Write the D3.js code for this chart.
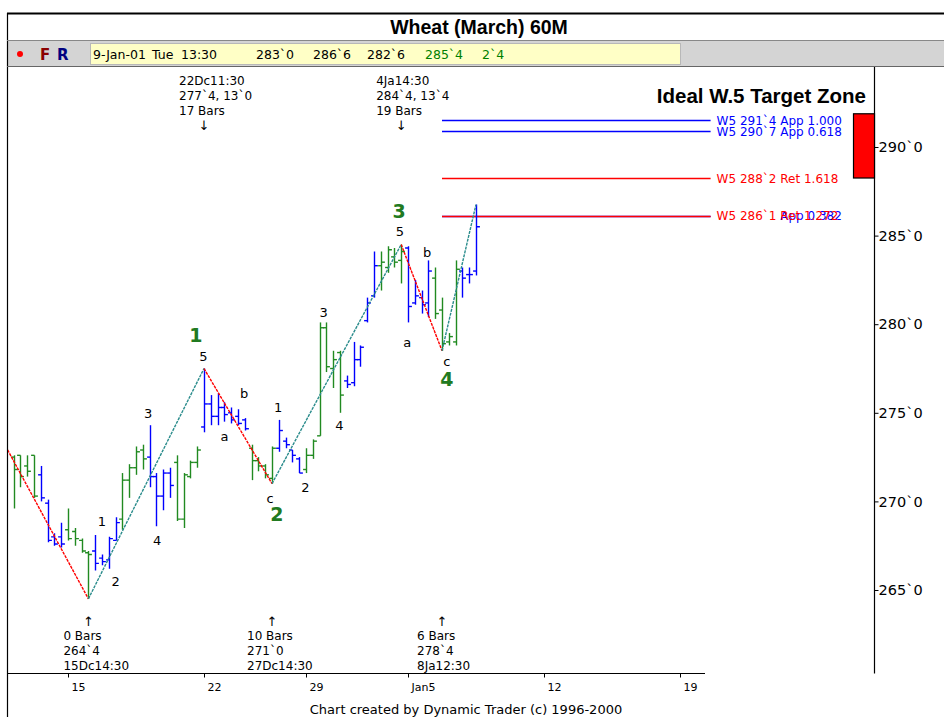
<!DOCTYPE html>
<html><head><meta charset="utf-8">
<script src="https://cdn.jsdelivr.net/npm/d3@7"></script>
<style>body{margin:0;background:#fff}svg{display:block}</style>
</head><body>
<svg id="c" width="944" height="717"></svg>
<script>
// ---------- data ----------
const chartTitle = "Wheat (March) 60M";
const headerFields = ["9-Jan-01", "Tue", "13:30", "283`0", "286`6", "282`6", "285`4", "2`4"];
const headerColors = ["#000", "#000", "#000", "#000", "#000", "#000", "#008000", "#008000"];

// hourly OHLC bars, index 0 = 13-Dec 11:30
const opens  = [272.5,272.6,272.0,272.6, 271.5,269.9,268.0,268.0, 268.4,268.3,267.8,267.1, 267.2,266.8,266.7,267.8,
                269.0,271.2,271.9,272.9, 272.5,271.4,270.3,271.6, 272.2,269.0,271.4,272.2, 274.2,275.5,274.8,
                275.3,275.0,274.8,274.6, 273.0,272.3,272.0,271.3, 273.0,273.4,272.9,272.4, 271.8,272.6,273.7,
                279.8,277.5,278.4, 276.8,276.7,278.0,280.2,281.6, 283.3,283.2,283.8,283.6, 284.3,281.2,281.5,281.2,
                282.6,280.8,279.0,279.0, 283.0,282.8,283.0];
const highs  = [272.6,272.6,272.6,272.6, 272.0,270.1,268.2,268.8, 269.6,268.5,267.9,267.2, 268.1,267.0,268.0,269.1,
                271.6,272.1,273.1,273.2, 274.3,271.6,271.8,271.9, 272.6,271.6,272.3,273.1, 277.5,276.0,276.1,
                275.6,275.3,275.2,274.7, 273.2,272.5,272.1,273.1, 274.6,273.6,272.9,272.5, 273.0,273.5,280.1,
                280.1,278.5,278.5, 277.1,279.0,278.8,281.5,284.1, 284.1,284.4,284.3,284.5, 284.4,282.5,281.9,283.6,
                283.2,281.5,279.5,283.6, 283.2,283.2,286.75];
const lows   = [269.6,270.8,271.4,270.2, 270.0,267.7,267.5,267.4, 267.8,267.5,267.1,264.5, 266.1,266.4,266.2,267.8,
                268.4,270.2,271.5,271.8, 270.8,268.6,269.5,270.2, 268.9,268.5,271.3,271.9, 273.9,274.3,274.3,
                274.5,274.4,274.3,274.0, 271.2,271.7,271.3,271.0, 272.8,273.0,272.2,271.6, 271.6,272.4,273.7,
                277.3,276.4,275.0, 276.4,276.5,277.6,280.1,281.5, 281.9,282.9,283.2,282.3, 280.1,281.1,280.6,280.4,
                280.3,278.5,278.8,278.8, 281.5,282.3,282.75];
const closes = [271.8,271.4,271.7,270.3, 270.2,267.8,267.6,267.6, 267.9,267.9,267.2,267.0, 266.5,266.6,267.9,268.8,
                271.2,271.9,272.8,272.4, 271.4,270.3,271.6,270.9, 269.0,271.5,272.2,272.9, 275.5,274.8,275.3,
                274.9,274.6,274.4,274.1, 272.3,272.0,271.5,273.0, 274.0,273.2,272.6,271.6, 272.6,273.4,279.8,
                277.6,278.0,276.0, 276.6,278.0,278.7,281.2,283.3, 283.5,284.2,283.5,284.1, 281.0,281.6,281.1,283.0,
                280.6,278.9,279.3,283.1, 282.6,282.8,285.5];
const barColorKeys = "ggggbbbbggggbbbbggggbbbbggggbbbbbbbggggbbbbggggggbbbbbggggbbbbggggbbb".split("");

const dayTickLabels = ["15", "22", "29", "Jan5", "12", "19"];
const dayTickIndex  = [8, 28, 43, 58, 78, 98];
const priceTicks    = [265, 270, 275, 280, 285, 290];

// wave pivots (bar index, price)
const pivotIndex = [-2, 11, 28, 38, 57, 63, 68];
const pivotValue = [273.7, 264.5, 277.5, 271.0, 284.5, 278.5, 286.75];

// small wave labels
const subLabelText  = ["1","2","3","4","5","a","b","c","1","2","3","4","5","a","b","c"];
const subLabelIndex = [13, 15, 19.8, 21.1, 27.9, 31, 33.9, 37.7, 38.9, 42.9, 45.6, 47.9, 56.8, 57.9, 60.8, 63.7];
const subLabelValue = [268.9, 265.5, 275.0, 267.8, 278.2, 273.7, 276.1, 270.2, 275.3, 270.8, 280.7, 274.3, 285.25, 279.0, 284.1, 277.9];
// major wave labels
const waveText  = ["1", "2", "3", "4"];
const waveIndex = [26.8, 38.7, 56.7, 63.7];
const waveValue = [279.4, 269.3, 286.4, 276.9];

// pivot annotations
const topNoteIndex = [28, 57];
const topNoteLines = [["22Dc11:30", "277`4, 13`0", "17 Bars"], ["4Ja14:30", "284`4, 13`4", "19 Bars"]];
const botNoteIndex = [11, 38, 63];
const botNoteLines = [["0 Bars", "264`4", "15Dc14:30"], ["10 Bars", "271`0", "27Dc14:30"], ["6 Bars", "278`4", "8Ja12:30"]];

// wave 5 targets
const targetValues = [291.5, 290.875, 288.25, 286.125, 286.125];
const targetLabels = ["W5 291`4 App 1.000", "W5 290`7 App 0.618", "W5 288`2 Ret 1.618", "W5 286`1 Ret 1.272", "W5 286`1 App 0.382"];
const targetKinds  = ["App", "App", "Ret", "Ret", "App"];
const targetStart  = 63, targetEnd = 102.5;
const zoneRange = [291.875, 288.25];
const zoneTitle = "Ideal W.5 Target Zone";
const footer = "Chart created by Dynamic Trader (c) 1996-2000";

// ---------- drawing ----------
const svg = d3.select("#c");
const W = 944, H = 717;
const plot = {left: 7.5, right: 874.5, top: 66.5, bottom: 673.5};
const x = d3.scaleLinear().domain([0, 68]).range([13.6, 476]);
const y = d3.scaleLinear().domain([265, 290]).range([590, 147]);
const GREEN = "#218a21", BLUE = "#0000ff", RED = "#ff0000", TEAL = "#2a8c8c";
const FONT = "DejaVu Sans, Verdana, sans-serif";

svg.append("rect").attr("width", W).attr("height", H).attr("fill", "#fff");

// title row & toolbar
svg.append("text").attr("x", 479).attr("y", 34).attr("text-anchor", "middle")
  .attr("font-family", "Liberation Sans, Arial, sans-serif").attr("font-weight", "bold")
  .attr("font-size", 19.5).text(chartTitle);
svg.append("rect").attr("x", 8).attr("y", 41).attr("width", W - 8).attr("height", 25).attr("fill", "#d4d4d4");
svg.append("rect").attr("x", 90.5).attr("y", 43.5).attr("width", 590).attr("height", 21)
  .attr("fill", "#ffffc6").attr("stroke", "#b8b8b8");
svg.append("circle").attr("cx", 20).attr("cy", 54).attr("r", 3).attr("fill", "#ff0000");
svg.append("text").attr("x", 40).attr("y", 60).attr("font-family", FONT).attr("font-weight", "bold")
  .attr("font-size", 15).attr("fill", "#8b0000").text("F");
svg.append("text").attr("x", 57).attr("y", 60).attr("font-family", FONT).attr("font-weight", "bold")
  .attr("font-size", 15).attr("fill", "#000080").text("R");
const headerX = [93, 152, 181, 256, 313, 367, 425, 482];
svg.selectAll("text.hdr").data(headerFields).join("text").attr("class", "hdr")
  .attr("x", (d, i) => headerX[i]).attr("y", 59).attr("font-family", FONT).attr("font-size", 12.5)
  .attr("fill", (d, i) => headerColors[i]).text(d => d);

// frame lines
const frame = svg.append("g").attr("stroke", "#000").attr("stroke-width", 1.2).attr("fill", "none");
frame.append("line").attr("x1", 7).attr("x2", W).attr("y1", 13.5).attr("y2", 13.5).attr("stroke-width", 2);
frame.append("line").attr("x1", 7.5).attr("x2", 7.5).attr("y1", 13).attr("y2", H);
frame.append("line").attr("x1", 7).attr("x2", W).attr("y1", 40.5).attr("y2", 40.5).attr("stroke", "#888");
frame.append("line").attr("x1", 7).attr("x2", W).attr("y1", 66.5).attr("y2", 66.5).attr("stroke", "#666");
frame.append("line").attr("x1", plot.right).attr("x2", plot.right).attr("y1", 67).attr("y2", plot.bottom);
frame.append("line").attr("x1", 7).attr("x2", 705).attr("y1", plot.bottom).attr("y2", plot.bottom);

// clip
svg.append("clipPath").attr("id", "pc").append("rect")
  .attr("x", 8).attr("y", 67).attr("width", plot.right - 8).attr("height", plot.bottom - 67);
const g = svg.append("g").attr("clip-path", "url(#pc)");

// right axis
const ya = svg.append("g").attr("transform", `translate(${plot.right},0)`)
  .call(d3.axisRight(y).tickValues(priceTicks).tickSize(4).tickFormat(v => v + "`0"));
ya.select(".domain").remove();
ya.selectAll("text").attr("font-family", FONT).attr("font-size", 14.5).attr("fill", "#000").attr("x", 4);
ya.selectAll("line").attr("stroke", "#000");

// bottom axis
const xa = svg.append("g").attr("transform", `translate(0,${plot.bottom})`)
  .call(d3.axisBottom(x).tickValues(dayTickIndex).tickSize(4).tickFormat((d, i) => dayTickLabels[i]));
xa.select(".domain").remove();
xa.selectAll("text").attr("font-family", FONT).attr("font-size", 11).attr("fill", "#000")
  .attr("text-anchor", "start").attr("dx", 3).attr("y", 10);
xa.selectAll("line").attr("stroke", "#000");

// target zone box
svg.append("rect").attr("x", 853.5).attr("width", 21)
  .attr("y", y(zoneRange[0])).attr("height", y(zoneRange[1]) - y(zoneRange[0]))
  .attr("fill", "#ff0000").attr("stroke", "#000").attr("stroke-width", 1.2);
svg.append("text").attr("x", 866).attr("y", 103).attr("text-anchor", "end")
  .attr("font-family", "Liberation Sans, Arial, sans-serif").attr("font-weight", "bold")
  .attr("font-size", 20.5).text(zoneTitle);

// target lines (blue App first, red Ret on top)
const order = [4, 0, 1, 2, 3];
order.forEach(i => {
  const col = targetKinds[i] === "App" ? BLUE : RED;
  g.append("line").attr("x1", x(targetStart)).attr("x2", x(targetEnd))
    .attr("y1", Math.round(y(targetValues[i])) + 0.5).attr("y2", Math.round(y(targetValues[i])) + 0.5)
    .attr("stroke", col).attr("stroke-width", 1.3);
});
order.forEach(i => {
  const col = targetKinds[i] === "App" ? BLUE : RED;
  const t = svg.append("text").attr("x", x(targetEnd) + 6).attr("y", y(targetValues[i]) + 4.5)
    .attr("font-family", FONT).attr("font-size", 12);
  if (i === 4) {
    const parts = targetLabels[i].split(" App ");
    t.append("tspan").attr("fill", "none").text(parts[0] + " ");
    t.append("tspan").attr("fill", col).text("App " + parts[1]);
  } else {
    t.attr("fill", col).text(targetLabels[i]);
  }
});

// OHLC bars
const bars = g.append("g").attr("stroke-width", 1.4);
opens.forEach((o, i) => {
  const cx = Math.round(x(i)) + 0.5;
  const col = barColorKeys[i] === "g" ? GREEN : BLUE;
  const b = bars.append("g").attr("stroke", col);
  b.append("line").attr("x1", cx).attr("x2", cx).attr("y1", y(highs[i])).attr("y2", y(lows[i]));
  b.append("line").attr("x1", cx - 3.4).attr("x2", cx).attr("y1", y(o)).attr("y2", y(o));
  b.append("line").attr("x1", cx).attr("x2", cx + 3.4).attr("y1", y(closes[i])).attr("y2", y(closes[i]));
});

// wave lines
for (let k = 0; k < pivotIndex.length - 1; k++) {
  const up = pivotValue[k + 1] > pivotValue[k];
  g.append("line")
    .attr("x1", x(pivotIndex[k])).attr("y1", y(pivotValue[k]))
    .attr("x2", x(pivotIndex[k + 1])).attr("y2", y(pivotValue[k + 1]))
    .attr("stroke", up ? TEAL : RED).attr("stroke-width", 1.4).attr("stroke-dasharray", "3,1");
}

// labels
svg.selectAll("text.sub").data(subLabelText).join("text").attr("class", "sub")
  .attr("x", (d, i) => x(subLabelIndex[i])).attr("y", (d, i) => y(subLabelValue[i]) + 5)
  .attr("text-anchor", "middle").attr("font-family", FONT).attr("font-size", 13).attr("fill", "#000")
  .text(d => d);
svg.selectAll("text.wave").data(waveText).join("text").attr("class", "wave")
  .attr("x", (d, i) => x(waveIndex[i])).attr("y", (d, i) => y(waveValue[i]) + 7)
  .attr("text-anchor", "middle").attr("font-family", FONT).attr("font-weight", "bold")
  .attr("font-size", 19).attr("fill", "#217a21").text(d => d);

// pivot notes
topNoteIndex.forEach((pi, k) => {
  const px = x(pi);
  topNoteLines[k].forEach((s, j) => {
    svg.append("text").attr("x", px - 25).attr("y", 85 + j * 15)
      .attr("font-family", FONT).attr("font-size", 12).text(s);
  });
  svg.append("text").attr("x", px).attr("y", 130).attr("text-anchor", "middle")
    .attr("font-family", FONT).attr("font-size", 13).text("\u2193");
});
botNoteIndex.forEach((pi, k) => {
  const px = x(pi);
  svg.append("text").attr("x", px).attr("y", 626).attr("text-anchor", "middle")
    .attr("font-family", FONT).attr("font-size", 13).text("\u2191");
  botNoteLines[k].forEach((s, j) => {
    svg.append("text").attr("x", px - 25).attr("y", 640 + j * 15)
      .attr("font-family", FONT).attr("font-size", 12).text(s);
  });
});

// footer
svg.append("text").attr("x", 466).attr("y", 714).attr("text-anchor", "middle")
  .attr("font-family", FONT).attr("font-size", 13).text(footer);
</script>
</body></html>
